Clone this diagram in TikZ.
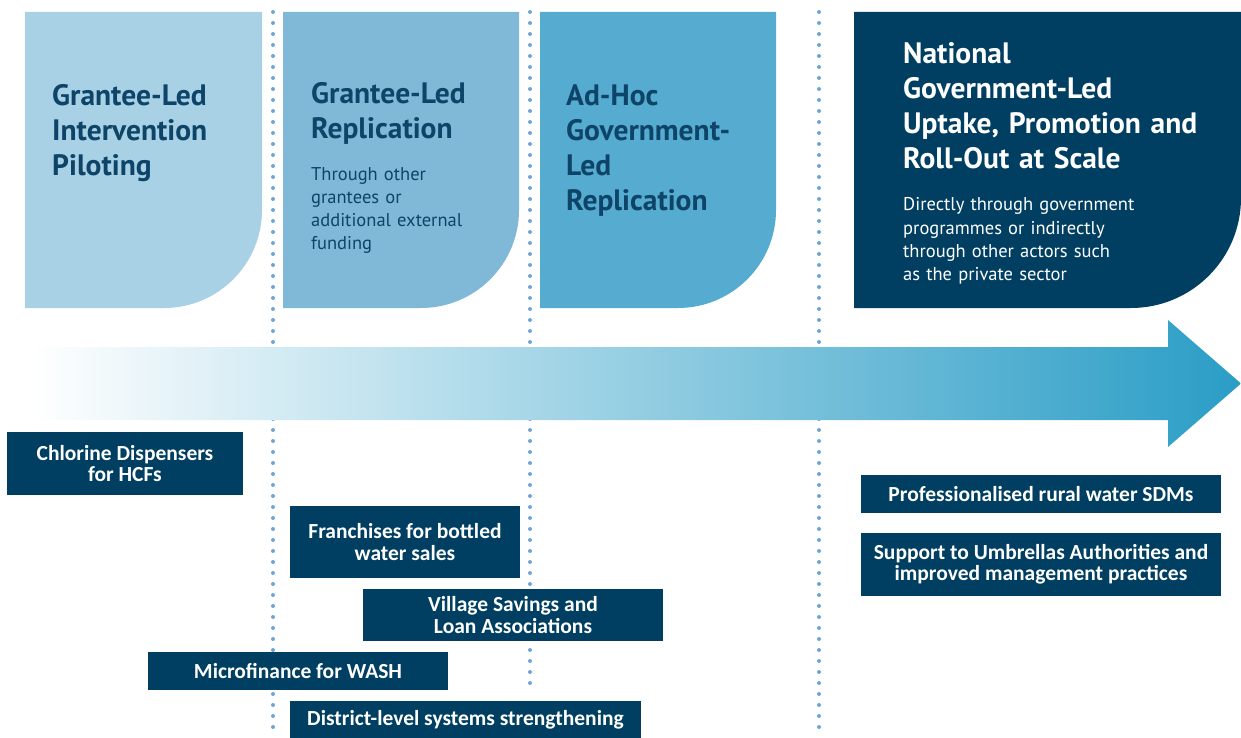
\documentclass[tikz,border=0pt]{standalone}
\usepackage{fontspec}
\setmainfont{PT Sans}
\newfontfamily\labelfont{Carlito}

\definecolor{stageone}{HTML}{A8D1E5}
\definecolor{stagetwo}{HTML}{80B9D8}
\definecolor{stagethree}{HTML}{55ACD0}
\definecolor{navy}{HTML}{003F62}
\definecolor{headtext}{HTML}{0D4468}
\definecolor{dotblue}{HTML}{6FA4D6}
\definecolor{arrowmid}{HTML}{A9CDE2}
\definecolor{arrowend}{HTML}{2A9DC6}

\begin{document}
\begin{tikzpicture}[x=1pt, y=-1pt,
    stage/.style={inner sep=0pt, anchor=base west, align=left, text width=240pt,
        font=\bfseries\fontsize{29.5}{35}\selectfont},
    note/.style={inner sep=0pt, anchor=base west, align=left, text width=260pt,
        font=\fontsize{18.5}{23.3}\selectfont},
    item/.style={fill=navy, text=white, align=center, inner sep=0pt,
        font=\labelfont\bfseries\fontsize{21.5}{21.5}\selectfont},
    dotline/.style={dotblue, line width=4pt, line cap=round, dash pattern=on 0pt off 11pt}]

    \useasboundingbox (0,0) rectangle (1241,738);

    % the four stages
    \fill[stageone] (25,12) -- (262,12) -- (262,210) arc[start angle=0, end angle=-90, radius=98pt] -- (25,308) -- cycle;
    \fill[stagetwo] (283,12) -- (519,12) -- (519,210) arc[start angle=0, end angle=-90, radius=98pt] -- (283,308) -- cycle;
    \fill[stagethree] (540,12) -- (776,12) -- (776,210) arc[start angle=0, end angle=-90, radius=98pt] -- (540,308) -- cycle;
    \fill[navy] (854,12) -- (1241,12) -- (1241,198) arc[start angle=0, end angle=-90, radius=110pt] -- (854,308) -- cycle;

    \foreach \x/\y in {273/733, 530/693, 819/733}
        \draw[dotline] (\x,12) -- (\x,\y);

    \shade[left color=white, middle color=arrowmid, right color=arrowend]
        (30,347) -- (1168,347) -- (1168,320) -- (1241,383.5) -- (1168,447) -- (1168,420) -- (30,420) -- cycle;

    \node[stage, text=headtext] (pilot) at (52,106) {Grantee-Led\\Intervention\\Piloting};
    \node[stage, text=headtext] (grantee) at (311,103.5) {Grantee-Led\\Replication};
    \node[note, text=headtext] (granteenote) at (311,180) {Through other\\grantees or\\additional external\\funding};
    \node[stage, text=headtext] (adhoc) at (566,106) {Ad-Hoc\\Government-\\Led\\Replication};
    \node[stage, text=white, text width=330pt] (national) at (903,64) {National\\Government-Led\\Uptake, Promotion and\\Roll-Out at Scale};
    \node[note, text=white] (nationalnote) at (903,211) {Directly through government\\programmes or indirectly\\through other actors such\\as the private sector};

    % interventions
    \node[item, minimum width=236pt, minimum height=63pt] (chlorine) at (125,463.5) {Chlorine Dispensers\\for HCFs};
    \node[item, minimum width=230pt, minimum height=72pt] (franchise) at (405,542) {Franchises for bottled\\water sales};
    \node[item, minimum width=300pt, minimum height=52pt] (vsla) at (513,615) {Village Savings and\\Loan Associations};
    \node[item, minimum width=300pt, minimum height=38pt] (microfin) at (298,671) {Microfinance for WASH};
    \node[item, minimum width=351pt, minimum height=37pt] (district) at (465.5,719.5) {District-level systems strengthening};
    \node[item, minimum width=360pt, minimum height=38pt] (sdm) at (1041,494) {Professionalised rural water SDMs};
    \node[item, minimum width=360pt, minimum height=63pt] (umbrella) at (1041,564.5) {Support to Umbrellas Authorities and\\improved management practices};
\end{tikzpicture}
\end{document}
